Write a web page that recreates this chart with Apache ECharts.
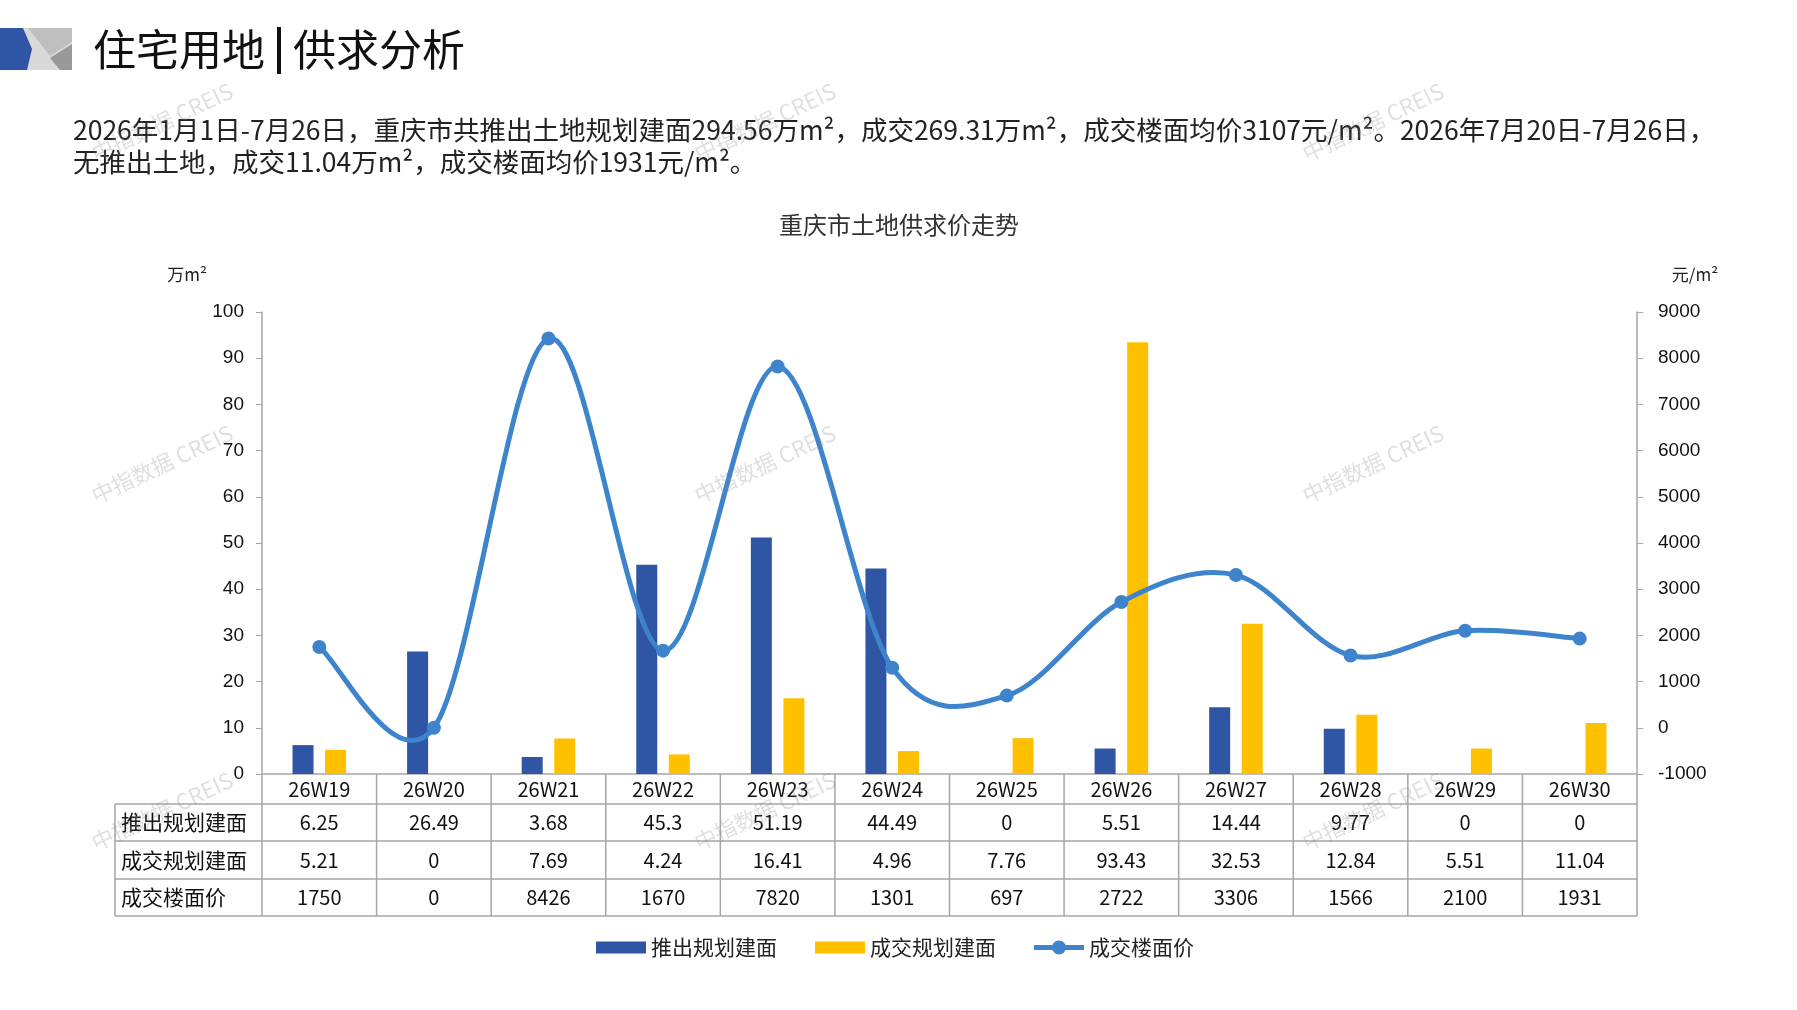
<!DOCTYPE html>
<html>
<head>
<meta charset="utf-8">
<script src="https://cdn.jsdelivr.net/npm/echarts@6/dist/echarts.min.js"></script>
<style>
  html, body { margin: 0; padding: 0; background: #fff; }
  #main { width: 1797px; height: 1010px; }
</style>
</head>
<body>
<div id="main"></div>
<script>
// 周次
var weeks = ['26W19', '26W20', '26W21', '26W22', '26W23', '26W24', '26W25', '26W26', '26W27', '26W28', '26W29', '26W30'];
// 推出规划建面 (万m²)
var supply = [6.25, 26.49, 3.68, 45.3, 51.19, 44.49, 0, 5.51, 14.44, 9.77, 0, 0];
// 成交规划建面 (万m²)
var deal = [5.21, 0, 7.69, 4.24, 16.41, 4.96, 7.76, 93.43, 32.53, 12.84, 5.51, 11.04];
// 成交楼面价 (元/m²)
var price = [1750, 0, 8426, 1670, 7820, 1301, 697, 2722, 3306, 1566, 2100, 1931];
var rowNames = ['推出规划建面', '成交规划建面', '成交楼面价'];

var CJK = '"Noto Sans CJK SC", sans-serif';
var NUM = '"Liberation Sans", Arial, sans-serif';
var gridLine = '#a6a6a6';
var lineColor = '#3e84cc';

var myChart = echarts.init(document.getElementById('main'));

// 水印
var marks = [];
[162, 765, 1373].forEach(function(x) {
    [122, 464, 811].forEach(function(y) {
        marks.push({
            type: 'text', x: x, y: y, rotation: 0.44, z: 100, silent: true,
            style: { text: '中指数据 CREIS', fill: 'rgba(140,140,140,0.28)', font: '22px ' + CJK, align: 'center', verticalAlign: 'middle' }
        });
    });
});

var header = [
    // logo
    { type: 'rect', shape: { x: 23, y: 28, width: 49, height: 42 }, style: { fill: '#d9d9d9' } },
    { type: 'polygon', shape: { points: [[28, 28], [72, 28], [72, 42], [50, 56]] }, style: { fill: '#bfbfbf' } },
    { type: 'polygon', shape: { points: [[72, 44], [72, 70], [60, 70], [50, 58]] }, style: { fill: '#999999' } },
    { type: 'polygon', shape: { points: [[0, 28], [23, 28], [32, 49], [27, 70], [0, 70]] }, style: { fill: '#2f55a5' } },
    // 标题
    { type: 'text', x: 93, y: 50, style: { text: '住宅用地', font: '43px ' + CJK, fill: '#111', verticalAlign: 'middle' } },
    { type: 'rect', shape: { x: 277, y: 27, width: 4, height: 47 }, style: { fill: '#111' } },
    { type: 'text', x: 293, y: 50, style: { text: '供求分析', font: '43px ' + CJK, fill: '#111', verticalAlign: 'middle' } },
    // 说明文字
    { type: 'text', x: 73, y: 130, style: { text: '2026年1月1日-7月26日，重庆市共推出土地规划建面294.56万m²，成交269.31万m²，成交楼面均价3107元/m²。2026年7月20日-7月26日，', font: '26.5px ' + CJK, fill: '#222', verticalAlign: 'middle' } },
    { type: 'text', x: 73, y: 162, style: { text: '无推出土地，成交11.04万m²，成交楼面均价1931元/m²。', font: '26.5px ' + CJK, fill: '#222', verticalAlign: 'middle' } },
    // 单位
    { type: 'text', x: 187, y: 275, style: { text: '万m²', font: '17px ' + CJK, fill: '#222', align: 'center', verticalAlign: 'middle' } },
    { type: 'text', x: 1695, y: 275, style: { text: '元/m²', font: '17px ' + CJK, fill: '#222', align: 'center', verticalAlign: 'middle' } }
];

// 平滑曲线（与表格软件的平滑线一致，控制点取相邻点差的1/6）
function renderCurve(params, api) {
    var pts = price.map(function(v, i) { return api.coord([i, v]); });
    var n = pts.length;
    var children = [];
    for (var i = 0; i < n - 1; i++) {
        var p0 = pts[Math.max(i - 1, 0)], p1 = pts[i], p2 = pts[i + 1], p3 = pts[Math.min(i + 2, n - 1)];
        children.push({
            type: 'bezierCurve',
            shape: {
                x1: p1[0], y1: p1[1],
                cpx1: p1[0] + (p2[0] - p0[0]) / 6, cpy1: p1[1] + (p2[1] - p0[1]) / 6,
                cpx2: p2[0] - (p3[0] - p1[0]) / 6, cpy2: p2[1] - (p3[1] - p1[1]) / 6,
                x2: p2[0], y2: p2[1]
            },
            style: { stroke: lineColor, lineWidth: 5, fill: null, lineCap: 'round' }
        });
    }
    return { type: 'group', children: children };
}

var option = {
    animation: false,
    backgroundColor: '#fff',
    title: {
        text: '重庆市土地供求价走势',
        left: 894, top: 208, textAlign: 'center',
        textStyle: { fontFamily: CJK, fontSize: 24, fontWeight: 'normal', color: '#333' }
    },
    legend: {
        left: 591, top: 932,
        itemWidth: 50, itemHeight: 14, itemGap: 38,
        textStyle: { fontFamily: CJK, fontSize: 21, color: '#222' },
        data: [
            { name: '推出规划建面', icon: 'path://M0,1 H50 V13 H0 Z' },
            { name: '成交规划建面', icon: 'path://M0,1 H50 V13 H0 Z' },
            { name: '成交楼面价', icon: 'path://M0,4.5 H50 V9.5 H0 Z M32,7 A7,7 0 1 1 18,7 A7,7 0 1 1 32,7 Z' }
        ]
    },
    grid: { left: 262, right: 160, top: 312, bottom: 236 },
    xAxis: [{
        type: 'category',
        data: weeks,
        axisLine: { lineStyle: { color: gridLine, width: 1.5 } },
        axisTick: { show: false },
        axisLabel: { show: false }
    }],
    yAxis: [{
        type: 'value', min: 0, max: 100, interval: 10,
        axisLine: { show: true, lineStyle: { color: gridLine, width: 1.5 } },
        axisTick: { show: true, length: 6, lineStyle: { color: gridLine } },
        splitLine: { show: false },
        axisLabel: { margin: 18, fontFamily: NUM, fontSize: 19, color: '#111' }
    }, {
        type: 'value', min: -1000, max: 9000, interval: 1000,
        axisLine: { show: true, lineStyle: { color: gridLine, width: 1.5 } },
        axisTick: { show: true, length: 6, lineStyle: { color: gridLine } },
        splitLine: { show: false },
        axisLabel: { margin: 21, fontFamily: NUM, fontSize: 19, color: '#111', formatter: function(v) { return String(v); } }
    }],
    series: [{
        name: '推出规划建面', type: 'bar', data: supply,
        barWidth: 21, barGap: '55%',
        itemStyle: { color: '#2f55a5' }
    }, {
        name: '成交规划建面', type: 'bar', data: deal,
        barWidth: 21,
        itemStyle: { color: '#ffc000' }
    }, {
        name: '成交楼面价曲线', type: 'custom', yAxisIndex: 1,
        data: [0], renderItem: renderCurve, silent: true, z: 4
    }, {
        name: '成交楼面价', type: 'line', yAxisIndex: 1, data: price,
        symbol: 'circle', symbolSize: 14,
        lineStyle: { width: 0, opacity: 0 },
        itemStyle: { color: lineColor },
        z: 5
    }],
    graphic: header.concat(marks)
};

myChart.setOption(option);

// 数据表
var tableTop = 774;
var rowLines = [804, 841, 879, 916];
var left0 = 115, left1 = 262, right1 = 1637;
var cellText = '20px ' + CJK;
var tbl = [];
var colW = myChart.convertToPixel({ xAxisIndex: 0 }, weeks[1]) - myChart.convertToPixel({ xAxisIndex: 0 }, weeks[0]);

rowLines.forEach(function(y) {
    tbl.push({ type: 'line', shape: { x1: left0, y1: y, x2: right1, y2: y }, style: { stroke: gridLine, lineWidth: 1.5 } });
});
tbl.push({ type: 'line', shape: { x1: left0, y1: rowLines[0], x2: left0, y2: rowLines[3] }, style: { stroke: gridLine, lineWidth: 1.5 } });
for (var i = 0; i <= weeks.length; i++) {
    var bx = left1 + i * colW;
    tbl.push({ type: 'line', shape: { x1: bx, y1: tableTop, x2: bx, y2: rowLines[3] }, style: { stroke: gridLine, lineWidth: 1.5 } });
}
var rows = [supply, deal, price];
var rowMid = [(tableTop + rowLines[0]) / 2];
for (var r = 0; r < 3; r++) rowMid.push((rowLines[r] + rowLines[r + 1]) / 2);
for (var j = 0; j < weeks.length; j++) {
    var cx = myChart.convertToPixel({ xAxisIndex: 0 }, weeks[j]);
    tbl.push({ type: 'text', x: cx, y: rowMid[0], style: { text: weeks[j], font: cellText, fill: '#111', align: 'center', verticalAlign: 'middle' } });
    for (var r = 0; r < 3; r++) {
        tbl.push({ type: 'text', x: cx, y: rowMid[r + 1], style: { text: String(rows[r][j]), font: cellText, fill: '#111', align: 'center', verticalAlign: 'middle' } });
    }
}
for (var r = 0; r < 3; r++) {
    tbl.push({ type: 'text', x: left0 + 6, y: rowMid[r + 1], style: { text: rowNames[r], font: '21px ' + CJK, fill: '#111', verticalAlign: 'middle' } });
}

myChart.setOption({ graphic: header.concat(marks).concat(tbl) });
</script>
</body>
</html>
